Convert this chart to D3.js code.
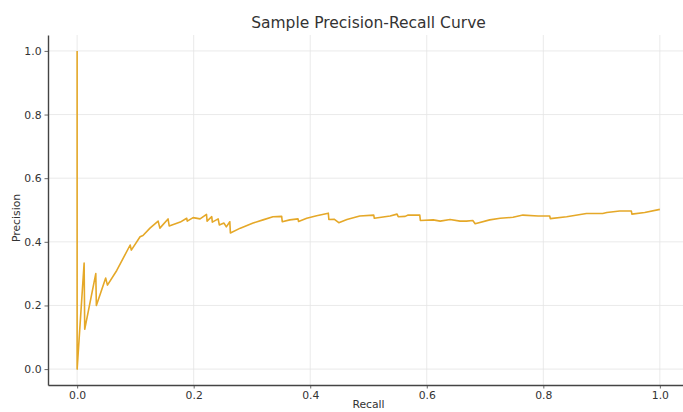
<!DOCTYPE html>
<html>
<head>
<meta charset="utf-8">
<script src="https://cdn.jsdelivr.net/npm/d3@7/dist/d3.min.js"></script>
<style>
  html, body { margin: 0; padding: 0; background: #fff; }
  svg { display: block; font-family: "DejaVu Sans", sans-serif; }
</style>
</head>
<body>
<svg id="chart" width="683" height="412"></svg>
<script>
const titleText = "Sample Precision-Recall Curve";
const xLabel = "Recall";
const yLabel = "Precision";
const xTicks = [0, 0.2, 0.4, 0.6, 0.8, 1.0];
const yTicks = [0, 0.2, 0.4, 0.6, 0.8, 1.0];

const recall = [
  0.000, 0.000, 0.012, 0.013, 0.032, 0.033, 0.049, 0.052, 0.068, 0.091,
  0.093, 0.108, 0.113, 0.125, 0.139, 0.142, 0.156, 0.158, 0.177, 0.188,
  0.189, 0.199, 0.211, 0.222, 0.223, 0.231, 0.232, 0.242, 0.244, 0.252,
  0.256, 0.262, 0.263, 0.280, 0.302, 0.319, 0.336, 0.351, 0.352, 0.365,
  0.379, 0.380, 0.394, 0.411, 0.431, 0.432, 0.441, 0.449, 0.463, 0.485,
  0.509, 0.510, 0.537, 0.549, 0.551, 0.563, 0.568, 0.588, 0.589, 0.611,
  0.623, 0.640, 0.657, 0.668, 0.679, 0.683, 0.708, 0.726, 0.748, 0.765,
  0.791, 0.811, 0.812, 0.840, 0.874, 0.902, 0.909, 0.931, 0.951, 0.952,
  0.974, 1.000
];
const precision = [
  1.000, 0.000, 0.333, 0.125, 0.300, 0.200, 0.286, 0.264, 0.310, 0.390,
  0.374, 0.416, 0.420, 0.443, 0.465, 0.443, 0.472, 0.450, 0.462, 0.474,
  0.465, 0.476, 0.472, 0.486, 0.465, 0.479, 0.462, 0.472, 0.453, 0.459,
  0.447, 0.463, 0.428, 0.443, 0.459, 0.469, 0.479, 0.480, 0.463, 0.469,
  0.472, 0.464, 0.474, 0.482, 0.490, 0.470, 0.471, 0.460, 0.470, 0.481,
  0.484, 0.474, 0.481, 0.487, 0.479, 0.480, 0.484, 0.484, 0.467, 0.469,
  0.465, 0.470, 0.465, 0.465, 0.467, 0.457, 0.469, 0.474, 0.477, 0.484,
  0.481, 0.481, 0.473, 0.479, 0.489, 0.489, 0.492, 0.497, 0.497, 0.487,
  0.492, 0.502
];

const W = 683, H = 412;
const margin = { left: 48, right: -6, top: 35, bottom: 27 };
const svg = d3.select("#chart");

const x = d3.scaleLinear().domain([-0.05, 1.05]).range([margin.left, W - margin.right]);
const y = d3.scaleLinear().domain([-0.05, 1.05]).range([H - margin.bottom, margin.top]);

const gridColor = "#e4e4e4";
const axisColor = "#444444";
const textColor = "#333333";

// grid
svg.append("g").selectAll("line.vg").data(xTicks).join("line")
  .attr("x1", d => x(d)).attr("x2", d => x(d))
  .attr("y1", y.range()[0]).attr("y2", y.range()[1])
  .attr("stroke", gridColor).attr("stroke-width", 0.8);
svg.append("g").selectAll("line.hg").data(yTicks).join("line")
  .attr("y1", d => y(d)).attr("y2", d => y(d))
  .attr("x1", x.range()[0]).attr("x2", x.range()[1])
  .attr("stroke", gridColor).attr("stroke-width", 0.8);

// axes
const fmt = d3.format(".1f");
const xAxis = svg.append("g")
  .attr("transform", `translate(0,${y.range()[0]})`)
  .call(d3.axisBottom(x).tickValues(xTicks).tickFormat(fmt).tickSizeInner(3.5).tickSizeOuter(0).tickPadding(3));
const yAxis = svg.append("g")
  .attr("transform", `translate(${x.range()[0]},0)`)
  .call(d3.axisLeft(y).tickValues(yTicks).tickFormat(fmt).tickSizeInner(3.5).tickSizeOuter(0).tickPadding(3));

[xAxis, yAxis].forEach(g => {
  g.select(".domain").attr("stroke", axisColor).attr("stroke-width", 1.4);
  g.selectAll(".tick line").attr("stroke", axisColor).attr("stroke-width", 0.8);
  g.selectAll(".tick text").attr("fill", textColor)
    .style("font-family", "'DejaVu Sans', sans-serif").style("font-size", "10.8px");
});

// line
const pts = recall.map((r, i) => [r, precision[i]]);
svg.append("path")
  .datum(pts)
  .attr("fill", "none")
  .attr("stroke", "#e5a828")
  .attr("stroke-width", 1.6)
  .attr("stroke-linejoin", "round")
  .attr("d", d3.line().x(d => x(d[0])).y(d => y(d[1])));

// title and labels
const cx = (x.range()[0] + x.range()[1]) / 2;
svg.append("text")
  .attr("x", cx).attr("y", 28)
  .attr("text-anchor", "middle")
  .attr("fill", textColor)
  .style("font-size", "15.5px")
  .text(titleText);

svg.append("text")
  .attr("x", cx).attr("y", 408)
  .attr("text-anchor", "middle")
  .attr("fill", textColor)
  .style("font-size", "10.8px")
  .text(xLabel);

const cy = (y.range()[0] + y.range()[1]) / 2;
svg.append("text")
  .attr("transform", `translate(20,${cy + 8}) rotate(-90)`)
  .attr("text-anchor", "middle")
  .attr("fill", textColor)
  .style("font-size", "10.8px")
  .text(yLabel);
</script>
</body>
</html>
